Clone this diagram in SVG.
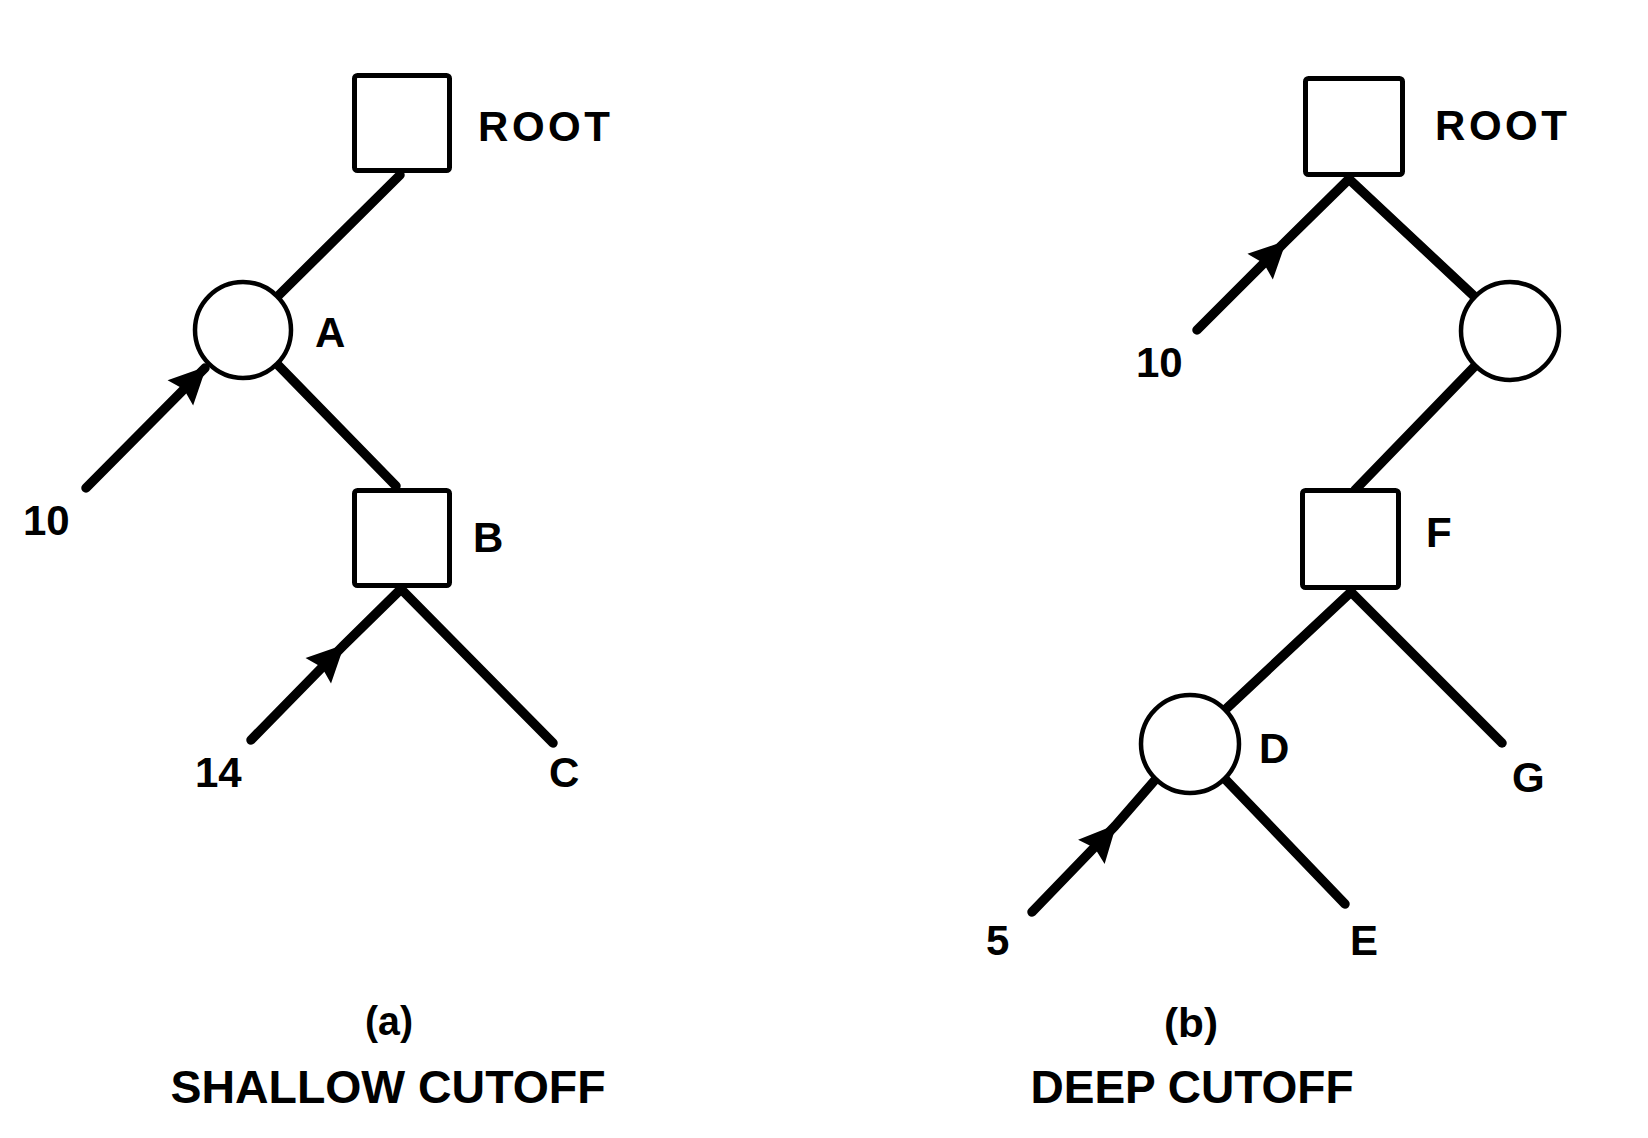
<svg xmlns="http://www.w3.org/2000/svg" width="1648" height="1138" viewBox="0 0 1648 1138">
<defs>
<style>
.box{fill:#fff;stroke:#000;stroke-width:5}
.circ{fill:#fff;stroke:#000;stroke-width:4.5}
.edge{fill:none;stroke:#000;stroke-width:9.5;stroke-linecap:round;stroke-linejoin:round}
.lbl{font-family:"Liberation Sans",Arial,sans-serif;font-weight:bold;font-size:42px;fill:#000}
.cap{font-family:"Liberation Sans",Arial,sans-serif;font-weight:bold;font-size:47px;fill:#000;text-anchor:middle}
.sub{font-family:"Liberation Sans",Arial,sans-serif;font-weight:bold;font-size:41px;fill:#000;text-anchor:middle}
</style>
<marker id="ah" markerUnits="userSpaceOnUse" markerWidth="44" markerHeight="44" refX="0" refY="0" viewBox="-38 -22 44 44" orient="auto" overflow="visible">
<path d="M2,0 L-35,-18 L-30,0 L-35,18 Z" fill="#000"/>
</marker>
</defs>
<g id="connectors">
<path class="edge" d="M400,175 L278,296"/>
<path class="edge" d="M277,364 L396,486"/>
<path class="edge" d="M86,488 L205,368" marker-end="url(#ah)"/>
<path class="edge" d="M251,740 L343,646 L400,590" marker-mid="url(#ah)"/>
<path class="edge" d="M402,590 L553,743"/>
<path class="edge" d="M1197,330 L1285,242 L1348,180" marker-mid="url(#ah)"/>
<path class="edge" d="M1350,180 L1475,297"/>
<path class="edge" d="M1475,366 L1355,490"/>
<path class="edge" d="M1351,592 L1226,709"/>
<path class="edge" d="M1351,592 L1502,743"/>
<path class="edge" d="M1032,912 L1115,826 L1155,780" marker-mid="url(#ah)"/>
<path class="edge" d="M1225,779 L1345,904"/>
</g>
<g id="rootA">
<rect class="box" x="354.5" y="75.5" width="95" height="95" rx="3"/>
<text class="lbl" x="478" y="141" font-size="43" textLength="132" lengthAdjust="spacing">ROOT</text>
</g>
<g id="nodeA">
<circle class="circ" cx="243" cy="330" r="48"/>
<text class="lbl" x="315" y="347">A</text>
</g>
<g id="nodeB">
<rect class="box" x="354.5" y="490.5" width="95" height="95" rx="3"/>
<text class="lbl" x="473" y="552">B</text>
</g>
<g id="nodeC"><text class="lbl" x="549" y="787">C</text></g>
<g id="val10a"><text class="lbl" x="23" y="535">10</text></g>
<g id="val14"><text class="lbl" x="195" y="787">14</text></g>
<g id="rootB">
<rect class="box" x="1305.5" y="78.5" width="97" height="96" rx="3"/>
<text class="lbl" x="1435" y="140" font-size="43" textLength="132" lengthAdjust="spacing">ROOT</text>
</g>
<g id="nodeMin"><circle class="circ" cx="1510" cy="331" r="49"/></g>
<g id="nodeF">
<rect class="box" x="1302.5" y="490.5" width="96" height="97" rx="3"/>
<text class="lbl" x="1426" y="547">F</text>
</g>
<g id="nodeD">
<circle class="circ" cx="1190" cy="744" r="49"/>
<text class="lbl" x="1259" y="763">D</text>
</g>
<g id="nodeG"><text class="lbl" x="1512" y="792">G</text></g>
<g id="nodeE"><text class="lbl" x="1350" y="955">E</text></g>
<g id="val10b"><text class="lbl" x="1136" y="377">10</text></g>
<g id="val5"><text class="lbl" x="986" y="955">5</text></g>
<g id="captionA">
<text class="sub" x="389" y="1035" textLength="48" lengthAdjust="spacingAndGlyphs">(a)</text>
<text class="cap" x="388" y="1103" textLength="435" lengthAdjust="spacingAndGlyphs">SHALLOW CUTOFF</text>
</g>
<g id="captionB">
<text class="sub" x="1191" y="1037" textLength="54" lengthAdjust="spacingAndGlyphs">(b)</text>
<text class="cap" x="1192" y="1103" textLength="323" lengthAdjust="spacingAndGlyphs">DEEP CUTOFF</text>
</g>
</svg>
